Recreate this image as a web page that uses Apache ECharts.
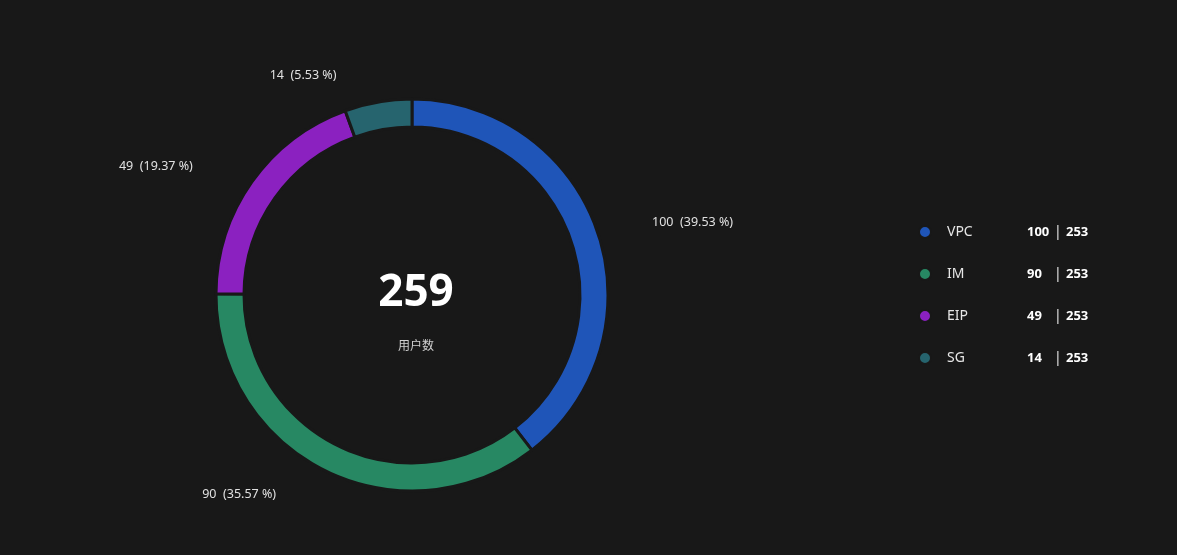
<!DOCTYPE html>
<html>
<head>
<meta charset="utf-8">
<style>
html,body{margin:0;padding:0;background:#181818;}
#c{width:1177px;height:555px;}
</style>
<script src="https://cdn.jsdelivr.net/npm/echarts@6/dist/echarts.min.js"></script>
</head>
<body>
<div id="c"></div>
<script>
const categories = ['VPC', 'IM', 'EIP', 'SG'];
const values = [100, 90, 49, 14];
const colors = ['#1f55b8', '#278863', '#8b21c0', '#26646e'];
const centerValue = '259';
const centerLabel = '用户数';

const total = values.reduce((a, b) => a + b, 0);
const FONT = '"Noto Sans", "Noto Sans CJK SC", sans-serif';

const chart = echarts.init(document.getElementById('c'));
chart.setOption({
  backgroundColor: '#181818',
  color: colors,
  textStyle: { fontFamily: FONT },
  graphic: [
    { type: 'text', x: 416, y: 293,
      style: { text: centerValue, fill: '#ffffff', font: 'bold 44px ' + FONT, textAlign: 'center', textVerticalAlign: 'middle' } },
    { type: 'text', x: 416, y: 347,
      style: { text: centerLabel, fill: '#d0d0d0', font: '12px ' + FONT, textAlign: 'center', textVerticalAlign: 'middle' } }
  ],
  legend: {
    orient: 'vertical',
    left: 913,
    top: 220,
    itemWidth: 34,
    itemHeight: 12,
    itemGap: 28,
    icon: 'circle',
    data: categories,
    formatter: function (name) {
      const i = categories.indexOf(name);
      return '{n|' + name + '}{v|' + values[i] + '}{s||}{t|' + total + '}';
    },
    textStyle: {
      color: '#e0e0e0',
      rich: {
        n: { width: 80, fontSize: 14, color: '#e6e6e6', fontFamily: FONT },
        v: { width: 27, fontSize: 13, fontWeight: 'bold', color: '#ffffff', fontFamily: FONT },
        s: { width: 12, fontSize: 14, color: '#e6e6e6', fontFamily: FONT },
        t: { fontSize: 13, fontWeight: 'bold', color: '#ffffff', fontFamily: FONT }
      }
    }
  },
  series: [{
    type: 'pie',
    center: [412, 295],
    radius: [168, 196],
    startAngle: 90,
    clockwise: true,
    avoidLabelOverlap: false,
    itemStyle: { borderColor: '#181818', borderWidth: 3 },
    label: {
      show: true,
      color: '#e0e0e0',
      fontSize: 12.5,
      fontFamily: FONT,
      formatter: function (p) { return p.value + '  (' + (p.value / total * 100).toFixed(2) + ' %)'; }
    },
    labelLine: { show: false, length: 27, length2: 28 },
    labelLayout: { dx: -4 },
    emphasis: { scale: false },
    data: categories.map((c, i) => ({ name: c, value: values[i] }))
  }]
});
</script>
</body>
</html>
